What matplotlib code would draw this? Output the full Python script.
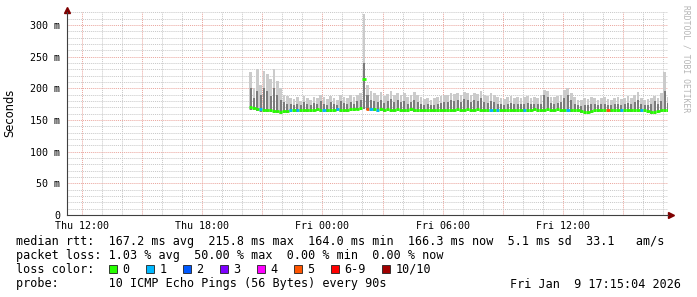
import matplotlib
matplotlib.use('Agg')
import matplotlib.pyplot as plt
import matplotlib.dates as mdates
from matplotlib.ticker import MultipleLocator, FuncFormatter
from matplotlib.patches import Rectangle
from matplotlib.transforms import ScaledTranslation
import numpy as np
import pandas as pd

# rtt samples every 10 minutes, in milliseconds
t_start = '2026-01-08 20:20'
median = [170, 169, 168, 167, 166, 165, 165,
          164, 164, 163, 164, 164, 165,
          165, 165, 166, 166, 165, 166, 166, 167, 166, 166, 165, 166, 166, 167, 166, 166, 166, 167,
          167, 168, 169,
          215,
          168, 167, 167, 166, 167, 166, 167, 166, 166, 167, 166, 166, 166, 167, 166, 166, 165, 165, 166, 166,
          165, 165, 166, 166, 166, 166,
          166, 167, 166, 166, 167, 166, 166, 167, 166, 166, 165, 166, 166, 166, 165, 166, 166, 166, 166, 166,
          166, 165, 166, 166, 167, 166, 166, 166, 167, 166,
          166, 167, 166, 166, 165, 166, 166, 166, 164, 163, 163, 164, 165, 166, 166, 166, 166, 166, 166, 166,
          165, 165, 166, 166, 166, 166, 166, 165, 164, 163, 163, 164, 165, 166, 166]
smoke_low = [166, 165, 164, 163, 163, 162, 162,
             161, 161, 160, 161, 161, 162,
             162, 162, 163, 163, 162, 163, 163, 164, 163, 163, 162, 163, 163, 164, 163, 163, 163, 164,
             164, 165, 166,
             168,
             165, 164, 164, 163, 164, 163, 164, 163, 163, 164, 163, 163, 163, 164, 163, 163, 162, 162, 163, 163,
             162, 162, 163, 163, 163, 163,
             163, 164, 163, 163, 164, 163, 163, 164, 163, 163, 162, 163, 163, 163, 162, 163, 163, 163, 163, 163,
             163, 162, 163, 163, 164, 163, 163, 163, 164, 163,
             163, 164, 163, 163, 162, 163, 163, 163, 161, 160, 160, 161, 162, 163, 163, 163, 163, 163, 163, 163,
             162, 162, 163, 163, 163, 163, 163, 162, 161, 160, 160, 161, 162, 163, 163]
smoke_mid = [200, 185, 195, 190, 200, 195, 188,
             200, 190, 182, 178, 176, 175,
             174, 176, 173, 178, 175, 174, 177, 175, 180, 176, 174, 178, 175, 174, 180, 177, 176, 179,
             176, 180, 182,
             240,
             190, 182, 180, 178, 182, 177, 180, 183, 179, 181, 178, 180, 176, 178, 182, 178, 175, 174, 175, 173,
             174, 176, 177, 179, 178, 181,
             180, 182, 179, 183, 181, 178, 182, 180, 184, 179, 177, 180, 178, 176, 175, 174, 176, 177, 175, 176,
             175, 176, 177, 175, 176, 175, 176, 190, 186, 177,
             176, 177, 178, 185, 190, 182, 176, 173, 172, 174, 174, 176, 175, 174, 175, 176, 174, 174, 175, 176,
             174, 175, 177, 175, 178, 182, 175, 173, 174, 175, 180, 176, 180, 195, 177]
smoke_max = [225, 200, 230, 205, 228, 222, 215,
             230, 212, 200, 190, 188, 185,
             183, 186, 180, 188, 185, 182, 187, 184, 190, 186, 183, 188, 184, 182, 190, 187, 185, 189,
             186, 190, 192,
             318,
             205, 195, 192, 190, 194, 188, 191, 195, 190, 193, 189, 192, 187, 190, 194, 189, 186, 183, 185, 182,
             184, 186, 188, 190, 189, 192,
             191, 193, 190, 194, 192, 189, 193, 191, 195, 190, 188, 192, 189, 186, 184, 183, 186, 188, 185, 187,
             184, 186, 188, 185, 187, 184, 190, 198, 195, 186,
             186, 188, 190, 198, 200, 192, 186, 182, 181, 184, 183, 186, 184, 182, 185, 187, 183, 182, 184, 186,
             183, 185, 188, 184, 190, 194, 184, 182, 183, 185, 188, 184, 192, 226, 186]
# samples with lost pings: index -> number lost
loss_idx = [3, 12, 14, 22, 26, 35, 36, 38, 72, 74, 82, 95, 107, 111, 117]
loss_cnt = [1, 1, 1, 1, 1, 5, 1, 1, 1, 1, 1, 1, 5, 1, 1]

loss_labels = ['0', '1', '2', '3', '4', '5', '6-9', '10/10']
loss_colors = ['#26ff00', '#00b8ff', '#0059ff', '#7e00ff', '#ff00ff', '#ff5500', '#ff0000', '#a10000']

legend_rows = [
    'median rtt:  167.2 ms avg  215.8 ms max  164.0 ms min  166.3 ms now  5.1 ms sd  33.1   am/s',
    'packet loss: 1.03 % avg  50.00 % max  0.00 % min  0.00 % now',
    'loss color:',
    'probe:       10 ICMP Echo Pings (56 Bytes) every 90s',
]
stamp = 'Fri Jan  9 17:15:04 2026'

mono = 'DejaVu Sans Mono'
W, H = 697, 297

times = pd.date_range(t_start, periods=len(median), freq='10min')
step = pd.Timedelta('10min')
loss = [0] * len(median)
for i, c in zip(loss_idx, loss_cnt):
    loss[i] = c

fig = plt.figure(figsize=(W / 100, H / 100), dpi=100)
ax = fig.add_axes([67 / W, 82 / H, 601 / W, 202.7 / H])

# smoke: light spread from min to max, darker core up to the middle pings
low = np.array(smoke_low)
ax.bar(times + pd.Timedelta('1min'), np.array(smoke_max) - low, bottom=low,
       width=pd.Timedelta('8min'), align='edge', color='#cbcbcb', linewidth=0, zorder=2)
ax.bar(times + pd.Timedelta('2min'), np.array(smoke_mid) - low, bottom=low,
       width=pd.Timedelta('6min'), align='edge', color='#7c7c7c', linewidth=0, zorder=3)

# median line, coloured by packet loss
seg_colors = [loss_colors[min(c, 6) if c < 10 else 7] for c in loss]
ax.hlines(median, times, times + step, colors=seg_colors, lw=2.0, zorder=5)

ax.set_xlim(pd.Timestamp('2026-01-08 11:15'), pd.Timestamp('2026-01-09 17:15'))
ax.set_ylim(0, 320)

ax.xaxis.set_major_locator(mdates.HourLocator(byhour=range(0, 24, 3)))
ax.xaxis.set_minor_locator(mdates.HourLocator())
ax.xaxis.set_major_formatter(FuncFormatter(
    lambda v, p: mdates.num2date(v).strftime('%a %H:%M') if mdates.num2date(v).hour % 6 == 0 else ''))
ax.yaxis.set_major_locator(MultipleLocator(50))
ax.yaxis.set_minor_locator(MultipleLocator(10))
ax.yaxis.set_major_formatter(FuncFormatter(lambda v, p: '0' if v == 0 else f'{v:.0f} m'))

ax.grid(which='minor', color='#c8c8c8', lw=0.7, ls=(0, (1, 1)))
ax.grid(which='major', color='#eaa49c', lw=0.7, ls=(0, (1, 1)))
ax.set_axisbelow(True)

ax.tick_params(which='both', length=0)
ax.tick_params(axis='y', pad=5, labelsize=7.2, labelfontfamily=mono)
ax.tick_params(axis='x', pad=4, labelsize=7.2, labelfontfamily=mono)
for s in ['top', 'right']:
    ax.spines[s].set_visible(False)
for s in ['left', 'bottom']:
    ax.spines[s].set_color('#404040')
    ax.spines[s].set_linewidth(0.8)

off = ScaledTranslation(0, 2 / 100, fig.dpi_scale_trans)
ax.plot([0], [1], marker='^', ms=4.5, color='#7f0000', transform=ax.transAxes + off, clip_on=False)
off = ScaledTranslation(3 / 100, 0, fig.dpi_scale_trans)
ax.plot([1], [0], marker='>', ms=4.5, color='#7f0000', transform=ax.transAxes + off, clip_on=False)

fig.text(10 / W, 1 - 113 / H, 'Seconds', rotation=90, ha='center', va='center',
         fontsize=8.3, family='DejaVu Sans')
fig.text(686 / W, 1 - 5 / H, 'RRDTOOL / TOBI OETIKER', rotation=270, ha='center', va='top',
         fontsize=5.8, family=mono, color='#b4b4b4')

baselines = [245, 259, 273, 287.5]
for row, yb in zip(legend_rows, baselines):
    fig.text(16 / W, 1 - yb / H, row, ha='left', va='baseline', fontsize=8.45, family=mono)
fig.text(681 / W, 1 - baselines[3] / H, stamp, ha='right', va='baseline', fontsize=8.45, family=mono)

# loss colour swatches
cw = 7.07
x = 109
for lab, col in zip(loss_labels, loss_colors):
    fig.patches.append(Rectangle((x / W, 1 - 273 / H), 8 / W, 8 / H, transform=fig.transFigure,
                                 facecolor=col, edgecolor='#202020', lw=0.6))
    fig.text((x + 13.5) / W, 1 - 273 / H, lab, ha='left', va='baseline', fontsize=8.45, family=mono)
    x += 8 + 5.5 + cw * len(lab) + 16.4

fig.savefig('out.png', dpi=100)
